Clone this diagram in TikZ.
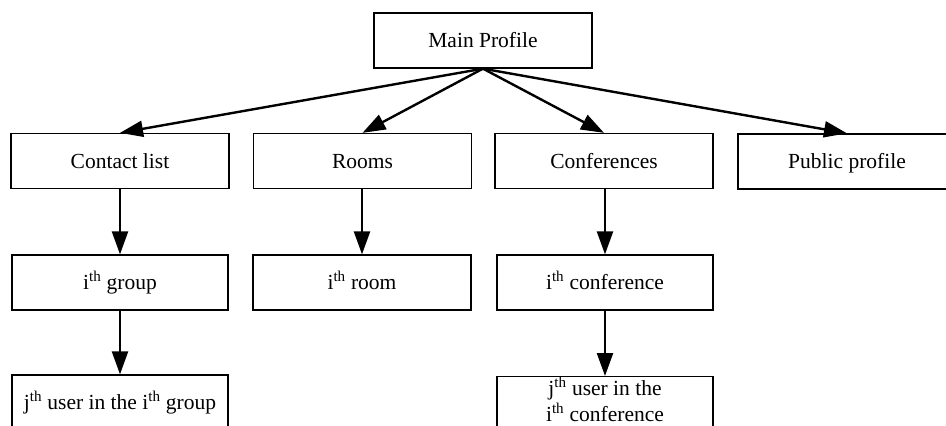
\documentclass[tikz,border=0pt]{standalone}
\usepackage{fontspec}
\setmainfont{Liberation Serif}
\usetikzlibrary{arrows.meta}
\newcommand{\sth}{\textsuperscript{th}}
\begin{document}
\begin{tikzpicture}[x=1pt,y=-1pt,
  basebox/.style={draw,line width=1.3pt,minimum width=218pt,minimum height=55pt,inner sep=0pt,
    font=\fontsize{21.5}{27}\selectfont,align=center},
  box/.style={basebox,text height=17pt,text depth=3pt},
  lbl/.style={inner sep=0pt,font=\fontsize{21.5}{26}\selectfont,align=center},
  arr/.style={line width=2.4pt,-{Triangle[length=23pt,width=16pt]}}]
\useasboundingbox (0,0) rectangle (946,426);
\clip (0,0) rectangle (946,426);
\node[box] (main) at (483,40.5) {Main Profile};
\node[box] (contact) at (120,161) {Contact list};
\node[box] (rooms) at (362.5,161) {Rooms};
\node[box] (conf) at (604,161) {Conferences};
\node[box] (public) at (847,161.5) {Public profile};
\node[box,minimum width=216pt] (group) at (120,282.5) {i\sth{} group};
\node[box] (room) at (362,282.5) {i\sth{} room};
\node[box,minimum width=216pt] (iconf) at (605,282.5) {i\sth{} conference};
\node[box,minimum width=216pt] (juser) at (120,402.5) {j\sth{} user in the i\sth{} group};
\node[basebox,minimum width=216pt,minimum height=60pt,anchor=north] (jconf) at (605,376) {};
\node[lbl] (jconftext) at (605,399.5) {j\sth{} user in the\\i\sth{} conference};
\draw[arr] (main.south) -- (contact.north);
\draw[arr] (main.south) -- (rooms.north);
\draw[arr] (main.south) -- (conf.north);
\draw[arr] (main.south) -- (public.north);
\draw[arr] (contact.south -| group.north) -- (group.north);
\draw[arr] (rooms.south -| room.north) -- (room.north);
\draw[arr] (conf.south -| iconf.north) -- (iconf.north);
\draw[arr] (group.south) -- (juser.north);
\draw[arr] (iconf.south) -- (jconf.north);
\end{tikzpicture}
\end{document}
